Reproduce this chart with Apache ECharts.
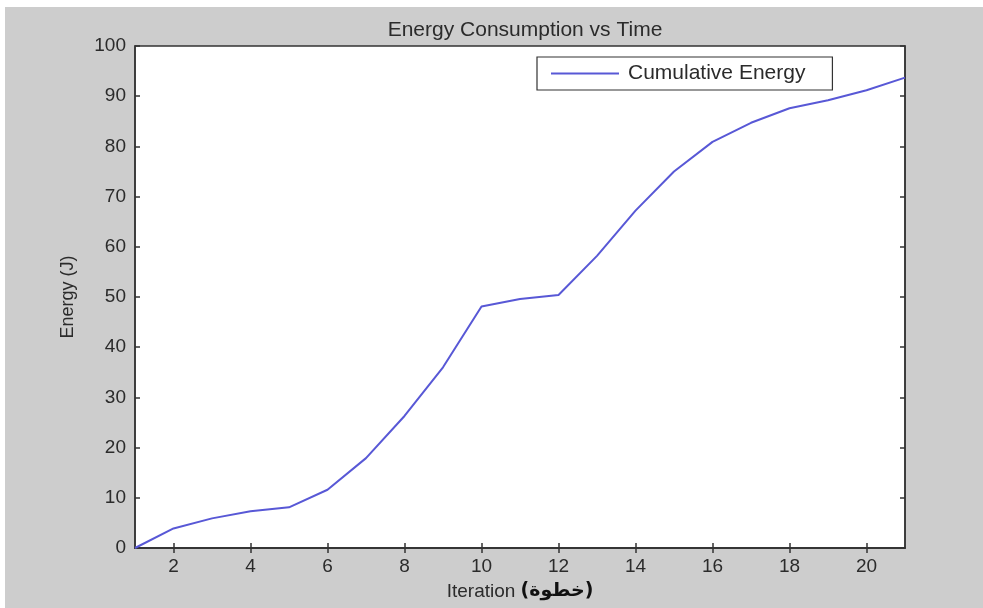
<!DOCTYPE html>
<html>
<head>
<meta charset="utf-8">
<script src="https://cdn.jsdelivr.net/npm/echarts@6/dist/echarts.min.js"></script>
<style>
  html, body { margin: 0; padding: 0; background: #ffffff; }
  #chart { width: 983px; height: 608px; }
</style>
</head>
<body>
<div id="chart"></div>
<script>
// Iteration numbers and cumulative energy (J) per iteration
const iterations = [1, 2, 3, 4, 5, 6, 7, 8, 9, 10, 11, 12, 13, 14, 15, 16, 17, 18, 19, 20, 21];
const cumulativeEnergy = [0, 3.9, 5.9, 7.3, 8.1, 11.6, 17.9, 26.3, 36.0, 48.1, 49.6, 50.4, 58.2, 67.2, 75.0, 80.9, 84.7, 87.6, 89.2, 91.2, 93.7];
const xTickValues = [2, 4, 6, 8, 10, 12, 14, 16, 18, 20];
const seriesName = 'Cumulative Energy';

const textColor = '#2b2b2b';
const fontFamily = 'Liberation Sans, Arial, sans-serif';
const lineColor = '#5858d6';

const chart = echarts.init(document.getElementById('chart'), null, { renderer: 'canvas' });

const inTicks = { show: true, inside: true, length: 5, lineStyle: { color: '#333', width: 1.5 } };
const frameLine = { show: true, lineStyle: { color: '#333', width: 1.5 } };

chart.setOption({
  animation: false,
  backgroundColor: 'transparent',
  graphic: [{
    type: 'rect',
    z: -10,
    shape: { x: 5, y: 7, width: 978, height: 601 },
    style: { fill: '#cdcdcd' },
    silent: true
  }],
  title: {
    text: 'Energy Consumption vs Time',
    left: 520,
    textAlign: 'center',
    top: 15,
    textStyle: { fontFamily, fontSize: 21, fontWeight: 'normal', color: textColor }
  },
  legend: {
    left: 537,
    top: 57,
    backgroundColor: '#ffffff',
    borderColor: '#333',
    borderWidth: 1.2,
    borderRadius: 0,
    padding: [6, 27, 6, 14],
    itemWidth: 68,
    itemHeight: 2,
    icon: 'rect',
    textStyle: { fontFamily, fontSize: 21, color: textColor, padding: [0, 0, 0, 4] },
    data: [seriesName]
  },
  grid: {
    left: 135,
    right: 78,
    top: 46,
    bottom: 60,
    show: true,
    backgroundColor: '#ffffff',
    borderColor: '#333',
    borderWidth: 1.5
  },
  xAxis: [{
    type: 'value',
    min: 1,
    max: 21,
    position: 'bottom',
    name: '{a|Iteration }{b|(خطوة)}',
    nameLocation: 'middle',
    nameGap: 34,
    nameTextStyle: {
      rich: {
        a: { fontFamily, fontSize: 19, color: textColor },
        b: { fontFamily: 'DejaVu Sans, sans-serif', fontSize: 19, fontWeight: 'bold', color: '#111' }
      }
    },
    axisLine: frameLine,
    axisTick: Object.assign({ customValues: xTickValues }, inTicks),
    axisLabel: { customValues: xTickValues, fontFamily, fontSize: 19, color: textColor, margin: 9 },
    splitLine: { show: false }
  }, {
    type: 'value',
    min: 1,
    max: 21,
    position: 'top',
    axisLine: frameLine,
    axisTick: Object.assign({ customValues: xTickValues }, inTicks),
    axisLabel: { show: false },
    splitLine: { show: false }
  }],
  yAxis: [{
    type: 'value',
    min: 0,
    max: 100,
    interval: 10,
    position: 'left',
    name: 'Energy (J)',
    nameLocation: 'middle',
    nameGap: 58,
    nameTextStyle: { fontFamily, fontSize: 18, color: textColor },
    axisLine: frameLine,
    axisTick: inTicks,
    axisLabel: { fontFamily, fontSize: 19, color: textColor, margin: 9 },
    splitLine: { show: false }
  }, {
    type: 'value',
    min: 0,
    max: 100,
    interval: 10,
    position: 'right',
    axisLine: frameLine,
    axisTick: inTicks,
    axisLabel: { show: false },
    splitLine: { show: false }
  }],
  series: [{
    name: seriesName,
    type: 'line',
    xAxisIndex: 0,
    yAxisIndex: 0,
    data: iterations.map((it, i) => [it, cumulativeEnergy[i]]),
    showSymbol: false,
    symbol: 'none',
    lineStyle: { color: lineColor, width: 2 },
    itemStyle: { color: lineColor }
  }]
});
</script>
</body>
</html>
